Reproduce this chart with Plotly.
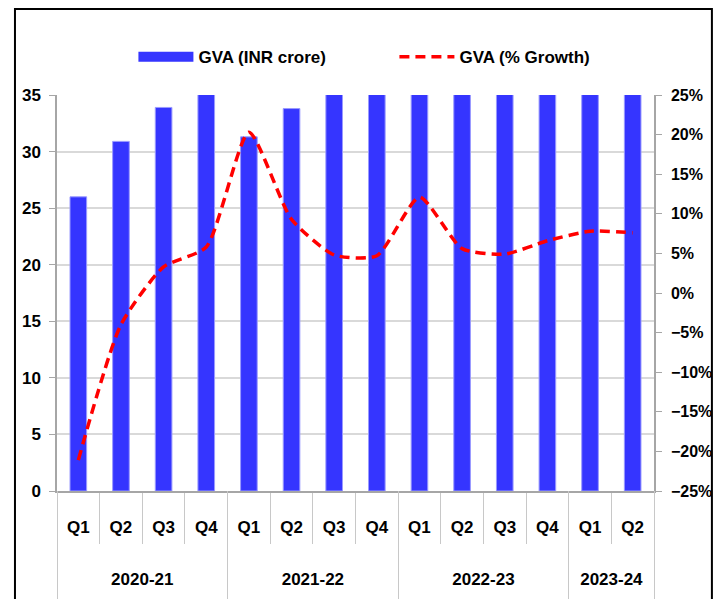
import plotly.graph_objects as go

years = ["2020-21", "2021-22", "2022-23", "2023-24"]
quarters_per_year = [4, 4, 4, 2]
quarters = ["Q1", "Q2", "Q3", "Q4", "Q1", "Q2", "Q3", "Q4", "Q1", "Q2", "Q3", "Q4", "Q1", "Q2"]
gva_crore = [26.0, 30.9, 33.9, 36.0, 31.3, 33.8, 35.5, 37.7, 35.1, 35.6, 37.2, 40.2, 37.8, 38.3]
gva_growth = [-21.1, -4.0, 3.3, 5.8, 20.3, 9.3, 4.8, 4.7, 12.1, 5.6, 4.9, 6.6, 7.8, 7.6]

FONT = "Liberation Sans, Arial, sans-serif"
BLUE = "#3535ff"

pos = list(range(len(quarters)))
# year group centres and boundaries, derived from the quarter counts
year_centres, year_bounds, start = [], [-0.5], 0
for n in quarters_per_year:
    year_centres.append(start + (n - 1) / 2)
    start += n
    year_bounds.append(start - 0.5)
quarter_bounds = [p - 0.5 for p in pos] + [pos[-1] + 0.5]
xr = [-0.5, len(quarters) - 0.5]

fig = go.Figure()
fig.add_trace(go.Bar(
    x=pos, y=gva_crore, name="GVA (INR crore)", showlegend=False, legendgroup="bar",
    marker=dict(color=BLUE, line=dict(color="#9a9aff", width=1)),
))
# legend entry for the bars (wide block symbol like the original)
fig.add_trace(go.Scatter(
    x=[None], y=[None], name="GVA (INR crore)", mode="lines", legendgroup="bar",
    line=dict(color=BLUE, width=14),
))
fig.add_trace(go.Scatter(
    x=pos, y=gva_growth, name="GVA (% Growth)", yaxis="y2",
    mode="lines", line=dict(color="#ff0000", width=3.5, dash="10px,6px", shape="spline", smoothing=0.6),
))
# invisible trace to activate the year axis
fig.add_trace(go.Scatter(x=[None], y=[None], xaxis="x2", showlegend=False, hoverinfo="skip"))

tickfont = dict(family=FONT, size=17, color="black", weight="bold")

fig.update_layout(
    width=713, height=591,
    margin=dict(l=49, r=67, t=87, b=0, autoexpand=False),
    paper_bgcolor="white", plot_bgcolor="white",
    font=dict(family=FONT, size=17, color="black"),
    bargap=0.61,
    showlegend=True,
    legend=dict(orientation="h", x=0.128, y=1.075, xanchor="left", yanchor="middle",
                font=dict(family=FONT, size=17, color="black", weight="bold"),
                itemwidth=55, entrywidth=191, bgcolor="rgba(0,0,0,0)"),
    xaxis=dict(
        range=xr, tickmode="array", tickvals=pos, ticktext=quarters,
        showline=True, linecolor="#a6a6a6", linewidth=1.5,
        ticks="", ticklabelstandoff=20,
        minor=dict(tickmode="array", tickvals=quarter_bounds, ticks="outside", ticklen=51,
                   tickcolor="#c8c8c8", tickwidth=1, showgrid=False),
        tickfont=tickfont, showgrid=False, zeroline=False,
    ),
    xaxis2=dict(
        range=xr, overlaying="x", anchor="free", position=0, side="bottom",
        tickmode="array", tickvals=year_centres, ticktext=years,
        ticks="", ticklabelposition="inside", ticklabelstandoff=8,
        minor=dict(tickmode="array", tickvals=year_bounds, ticks="inside", ticklen=108,
                   tickcolor="#c8c8c8", tickwidth=1, showgrid=False),
        showline=False, showgrid=False, zeroline=False, tickfont=tickfont,
    ),
    yaxis=dict(
        domain=[108 / 504, 1],
        range=[0, 35], dtick=5, showgrid=True, gridcolor="#d9d9d9", gridwidth=2,
        showline=True, linecolor="#a6a6a6", linewidth=1.5,
        ticks="outside", ticklen=6, tickcolor="#a6a6a6", ticklabelstandoff=5,
        tickfont=tickfont, zeroline=False,
    ),
    yaxis2=dict(
        range=[-25, 25], dtick=5, ticksuffix="%", overlaying="y", side="right",
        showgrid=False, zeroline=False,
        showline=True, linecolor="#a6a6a6", linewidth=1.5,
        ticks="outside", ticklen=6, tickcolor="#a6a6a6", ticklabelstandoff=6,
        tickfont=dict(family=FONT, size=16, color="black", weight="bold"),
    ),
    shapes=[dict(type="rect", xref="paper", yref="paper",
                 x0=-0.0704, x1=1.097, y0=-0.1, y1=1.1706,
                 line=dict(color="black", width=2), fillcolor="rgba(0,0,0,0)", layer="below")],
)

fig.write_html("out.html")
